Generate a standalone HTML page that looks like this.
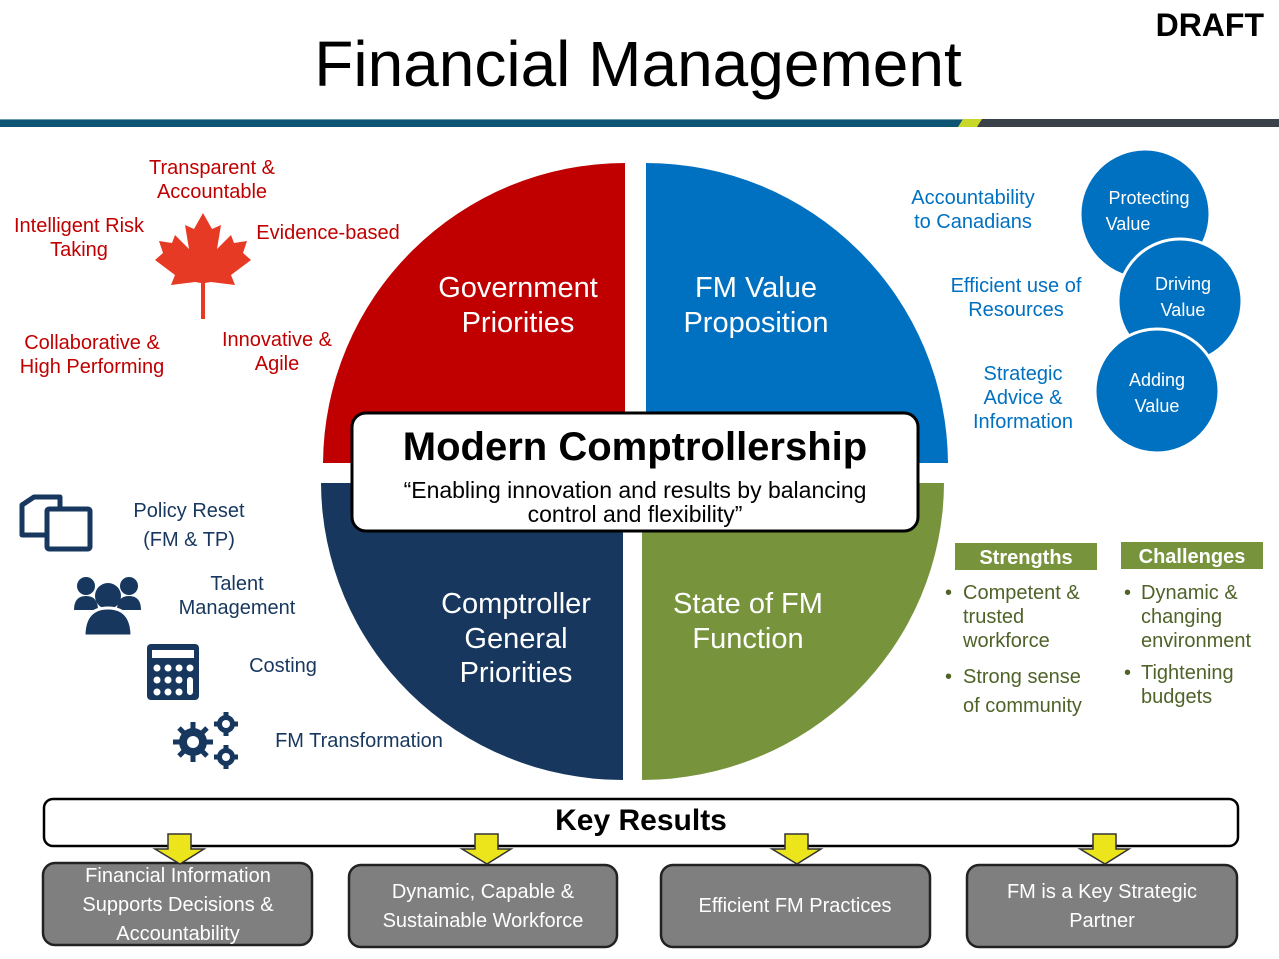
<!DOCTYPE html>
<html><head><meta charset="utf-8"><style>
html,body{margin:0;padding:0;background:#fff;}
svg{display:block;font-family:"Liberation Sans",sans-serif;}
</style></head><body>
<svg width="1279" height="959" viewBox="0 0 1279 959" xmlns="http://www.w3.org/2000/svg">
<text x="638" y="86" font-size="64" text-anchor="middle" fill="#000">Financial Management</text>
<text x="1264" y="36" font-size="32" font-weight="bold" text-anchor="end" fill="#000">DRAFT</text>
<rect x="0" y="119" width="1279" height="8" fill="#0e5475"/>
<rect x="0" y="119" width="1279" height="1" fill="#6a9ab0"/>
<polygon points="980,119 1279,119 1279,127 977,127" fill="#3a4148"/>
<polygon points="963,119 982,119 977,127 958,127" fill="#c8d82a"/>

<!-- quadrants -->
<path d="M625,463 L323,463 A302,302 0 0 1 625,163 Z" fill="#c00000"/>
<path d="M646,463 L646,163 A302,302 0 0 1 948,463 Z" fill="#0070c0"/>
<path d="M623,483 L321,483 A302,298 0 0 0 623,780 Z" fill="#17375e"/>
<path d="M642,483 L944,483 A302,298 0 0 1 642,780 Z" fill="#77933c"/>

<g fill="#fff" font-size="29" text-anchor="middle">
<text x="518" y="297">Government</text><text x="518" y="332">Priorities</text>
<text x="756" y="297">FM Value</text><text x="756" y="332">Proposition</text>
<text x="516" y="613">Comptroller</text><text x="516" y="648">General</text><text x="516" y="682">Priorities</text>
<text x="748" y="613">State of FM</text><text x="748" y="648">Function</text>
</g>

<rect x="352" y="413" width="566" height="118" rx="14" fill="#fff" stroke="#000" stroke-width="3"/>
<text x="635" y="460" font-size="40" font-weight="bold" text-anchor="middle">Modern Comptrollership</text>
<text x="635" y="498" font-size="23" text-anchor="middle">“Enabling innovation and results by balancing</text>
<text x="635" y="522" font-size="23" text-anchor="middle">control and flexibility”</text>

<!-- red values -->
<g fill="#c00000" font-size="20" text-anchor="middle">
<text x="212" y="174">Transparent &amp;</text><text x="212" y="198">Accountable</text>
<text x="79" y="232">Intelligent Risk</text><text x="79" y="256">Taking</text>
<text x="328" y="239">Evidence-based</text>
<text x="92" y="349">Collaborative &amp;</text><text x="92" y="373">High Performing</text>
<text x="277" y="346">Innovative &amp;</text><text x="277" y="370">Agile</text>
</g>
<polygon transform="translate(155,213)" fill="#e63a25" points="48,0 57,16 66,12 62,36 76,22 79,30 92,28 88,40 96,47 76,62 80,72 56,69 50,70 50,106 46,106 46,70 40,69 16,72 20,62 0,47 8,40 4,28 17,30 20,22 34,36 30,12 39,16"/>

<!-- blue values -->
<g fill="#0070c0" font-size="20" text-anchor="middle">
<text x="973" y="204">Accountability</text><text x="973" y="228">to Canadians</text>
<text x="1016" y="292">Efficient use of</text><text x="1016" y="316">Resources</text>
<text x="1023" y="380">Strategic</text><text x="1023" y="404">Advice &amp;</text><text x="1023" y="428">Information</text>
</g>
<circle cx="1145" cy="214" r="65" fill="#0070c0" stroke="#fff" stroke-width="3"/>
<circle cx="1180" cy="301" r="62" fill="#0070c0" stroke="#fff" stroke-width="3"/>
<circle cx="1157" cy="391" r="62" fill="#0070c0" stroke="#fff" stroke-width="3"/>
<g fill="#fff" font-size="18" text-anchor="middle">
<text x="1149" y="204">Protecting</text><text x="1128" y="230">Value</text>
<text x="1183" y="290">Driving</text><text x="1183" y="316">Value</text>
<text x="1157" y="386">Adding</text><text x="1157" y="412">Value</text>
</g>

<!-- strengths/challenges -->
<rect x="955" y="543" width="142" height="27" fill="#77933c"/>
<rect x="1121" y="542" width="142" height="27" fill="#77933c"/>
<text x="1026" y="564" font-size="20" font-weight="bold" fill="#fff" text-anchor="middle">Strengths</text>
<text x="1192" y="563" font-size="20" font-weight="bold" fill="#fff" text-anchor="middle">Challenges</text>
<g fill="#4f6228" font-size="20">
<text x="945" y="599">•</text><text x="963" y="599">Competent &amp;</text><text x="963" y="623">trusted</text><text x="963" y="647">workforce</text>
<text x="945" y="683">•</text><text x="963" y="683">Strong sense</text><text x="963" y="712">of community</text>
<text x="1124" y="599">•</text><text x="1141" y="599">Dynamic &amp;</text><text x="1141" y="623">changing</text><text x="1141" y="647">environment</text>
<text x="1124" y="679">•</text><text x="1141" y="679">Tightening</text><text x="1141" y="703">budgets</text>
</g>

<!-- left icons -->
<g fill="#17375e" font-size="20" text-anchor="middle">
<text x="189" y="517">Policy Reset</text><text x="189" y="546">(FM &amp; TP)</text>
<text x="237" y="590">Talent</text><text x="237" y="614">Management</text>
<text x="283" y="672">Costing</text>
<text x="359" y="747">FM Transformation</text>
</g>
<g fill="none" stroke="#17375e" stroke-width="5" stroke-linejoin="round">
<path d="M22,505 L34,497 L60,497 L60,535 L22,535 Z"/>
<rect x="47" y="509" width="43" height="40" rx="2" fill="#fff"/>
</g>
<g fill="#17375e">
<circle cx="86" cy="586" r="9"/><circle cx="129" cy="586" r="9"/>
<path d="M74,610 q0,-14 12,-14 q12,0 12,14 Z"/><path d="M117,610 q0,-14 12,-14 q12,0 12,14 Z"/>
<circle cx="108" cy="596" r="13"/>
<path d="M84,636 q0,-28 24,-28 q24,0 24,28 Z" stroke="#fff" stroke-width="3"/>
<rect x="147" y="644" width="52" height="56" rx="4"/>
<rect x="152" y="650" width="42" height="8" fill="#fff"/>
<g fill="#fff">
<circle cx="157" cy="668" r="3.5"/><circle cx="168" cy="668" r="3.5"/><circle cx="179" cy="668" r="3.5"/><circle cx="190" cy="668" r="3.5"/>
<circle cx="157" cy="680" r="3.5"/><circle cx="168" cy="680" r="3.5"/><circle cx="179" cy="680" r="3.5"/>
<circle cx="157" cy="692" r="3.5"/><circle cx="168" cy="692" r="3.5"/><circle cx="179" cy="692" r="3.5"/>
<rect x="187" y="677" width="6" height="18" rx="3"/>
</g>
<circle cx="193" cy="742" r="14"/>
<circle cx="226" cy="724" r="9"/><circle cx="226" cy="757" r="9"/>
<g stroke="#17375e" stroke-width="5">
<line x1="193" y1="722" x2="193" y2="762"/><line x1="173" y1="742" x2="213" y2="742"/>
<line x1="179" y1="728" x2="207" y2="756"/><line x1="207" y1="728" x2="179" y2="756"/>
<line x1="226" y1="712" x2="226" y2="736"/><line x1="214" y1="724" x2="238" y2="724"/>
<line x1="226" y1="745" x2="226" y2="769"/><line x1="214" y1="757" x2="238" y2="757"/>
</g>
<circle cx="193" cy="742" r="6" fill="#fff"/><circle cx="226" cy="724" r="4" fill="#fff"/><circle cx="226" cy="757" r="4" fill="#fff"/>
</g>

<!-- key results -->
<rect x="44" y="799" width="1194" height="47" rx="9" fill="#fff" stroke="#000" stroke-width="2.5"/>
<text x="641" y="830" font-size="30" font-weight="bold" text-anchor="middle">Key Results</text>
<g fill="#7f7f7f" stroke="#222" stroke-width="2.5">
<rect x="43" y="863" width="269" height="82" rx="12"/>
<rect x="349" y="865" width="268" height="82" rx="12"/>
<rect x="661" y="865" width="269" height="82" rx="12"/>
<rect x="967" y="865" width="270" height="82" rx="12"/>
</g>
<g fill="#ede51c" stroke="#333" stroke-width="1.5">
<polygon points="168,834 191,834 191,849 204,849 180,864 155,849 168,849"/>
<polygon points="475,834 498,834 498,849 511,849 487,864 462,849 475,849"/>
<polygon points="785,834 808,834 808,849 821,849 797,864 772,849 785,849"/>
<polygon points="1093,834 1116,834 1116,849 1129,849 1105,864 1080,849 1093,849"/>
</g>
<g fill="#fff" font-size="20" text-anchor="middle">
<text x="178" y="882">Financial Information</text><text x="178" y="911">Supports Decisions &amp;</text><text x="178" y="940">Accountability</text>
<text x="483" y="898">Dynamic, Capable &amp;</text><text x="483" y="927">Sustainable Workforce</text>
<text x="795" y="912">Efficient FM Practices</text>
<text x="1102" y="898">FM is a Key Strategic</text><text x="1102" y="927">Partner</text>
</g>
</svg>
</body></html>
